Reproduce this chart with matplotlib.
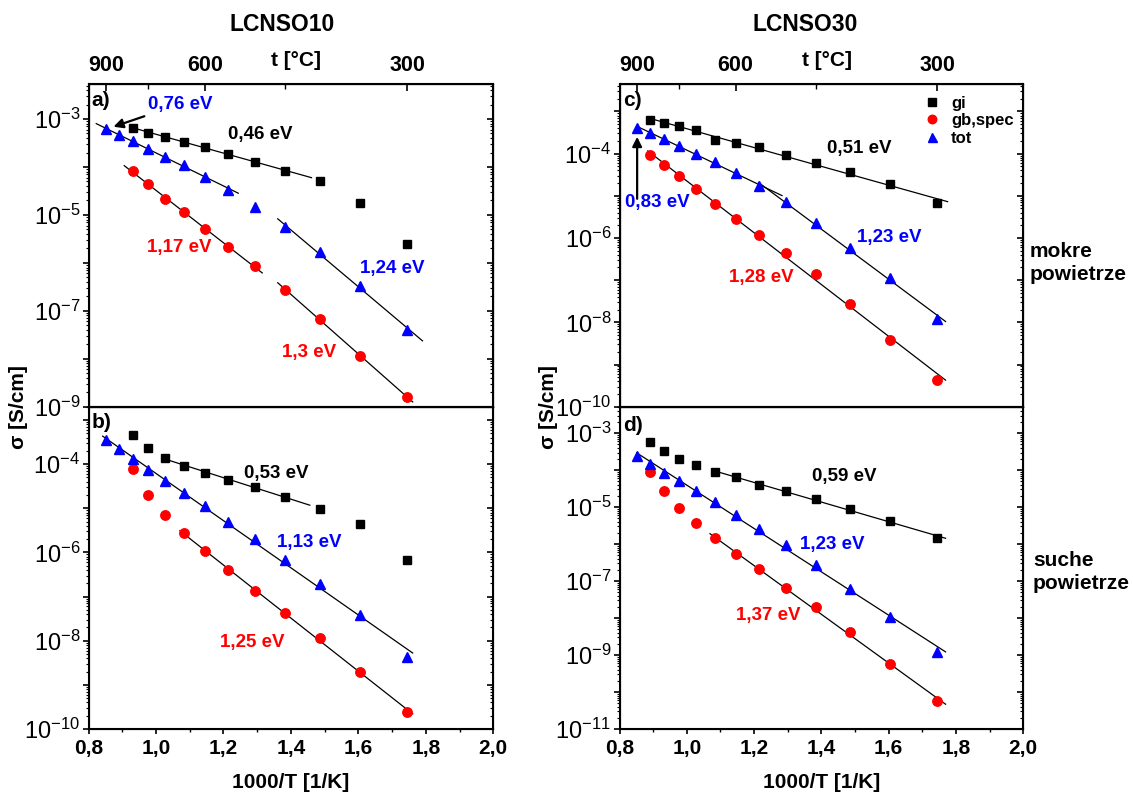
import numpy as np
import matplotlib.pyplot as plt
from matplotlib.ticker import LogLocator, NullFormatter, FuncFormatter, MultipleLocator

plt.rcParams['font.family'] = 'Liberation Sans'
plt.rcParams['mathtext.fontset'] = 'custom'
plt.rcParams['mathtext.rm'] = 'Liberation Sans'
plt.rcParams['mathtext.default'] = 'regular'

nan = np.nan

# temperatury pomiaru [C] -> 1000/T
t_C = [900, 850, 800, 750, 700, 650, 600, 550, 500, 450, 400, 350, 300]
x = 1000.0 / (np.array(t_C) + 273.15)

# ----- DANE: przewodnictwo [S/cm] -----
# a) LCNSO10, mokre powietrze
gi_a = [nan, nan, 6.4e-4, 5.2e-4, 4.2e-4, 3.37e-4, 2.57e-4, 1.9e-4, 1.29e-4, 8.4e-5, 5.2e-5, 1.75e-5, 2.5e-6]
gb_a = [nan, nan, 8.1e-5, 4.35e-5, 2.19e-5, 1.14e-5, 5.0e-6, 2.19e-6, 8.4e-7, 2.74e-7, 6.8e-8, 1.15e-8, 1.59e-9]
tot_a = [6.1e-4, 4.6e-4, 3.4e-4, 2.37e-4, 1.64e-4, 1.1e-4, 6.3e-5, 3.3e-5, 1.49e-5, 5.5e-6, 1.67e-6, 3.3e-7, 4.0e-8]
# b) LCNSO10, suche powietrze
gi_b = [nan, nan, 4.47e-4, 2.3e-4, 1.39e-4, 9.2e-5, 6.4e-5, 4.4e-5, 2.96e-5, 1.82e-5, 9.6e-6, 4.3e-6, 6.8e-7]
gb_b = [nan, nan, 7.7e-5, 1.95e-5, 6.9e-6, 2.7e-6, 1.05e-6, 3.96e-7, 1.37e-7, 4.35e-8, 1.14e-8, 1.97e-9, 2.49e-10]
tot_b = [3.56e-4, 2.19e-4, 1.3e-4, 7.3e-5, 4.2e-5, 2.2e-5, 1.1e-5, 4.9e-6, 2.0e-6, 6.8e-7, 1.9e-7, 3.8e-8, 4.2e-9]
# c) LCNSO30, mokre powietrze
gi_c = [nan, 6.4e-4, 5.2e-4, 4.47e-4, 3.6e-4, 2.15e-4, 1.8e-4, 1.44e-4, 9.3e-5, 6.0e-5, 3.6e-5, 1.87e-5, 6.7e-6]
gb_c = [nan, 9.5e-5, 5.4e-5, 2.95e-5, 1.42e-5, 6.5e-6, 2.85e-6, 1.19e-6, 4.5e-7, 1.38e-7, 2.73e-8, 3.9e-9, 4.4e-10]
tot_c = [4.15e-4, 3.0e-4, 2.27e-4, 1.55e-4, 1.0e-4, 6.3e-5, 3.4e-5, 1.67e-5, 7.0e-6, 2.3e-6, 5.8e-7, 1.1e-7, 1.2e-8]
# d) LCNSO30, suche powietrze
gi_d = [nan, 5.6e-4, 3.2e-4, 2.0e-4, 1.34e-4, 9.0e-5, 6.5e-5, 4.0e-5, 2.65e-5, 1.68e-5, 8.8e-6, 4.1e-6, 1.48e-6]
gb_d = [nan, 9.0e-5, 2.7e-5, 9.6e-6, 3.7e-6, 1.42e-6, 5.4e-7, 2.07e-7, 6.6e-8, 1.94e-8, 4.1e-9, 5.7e-10, 5.6e-11]
tot_d = [2.44e-4, 1.48e-4, 8.6e-5, 5.15e-5, 2.76e-5, 1.36e-5, 6.3e-6, 2.6e-6, 9.2e-7, 2.8e-7, 6.2e-8, 1.04e-8, 1.18e-9]

# ----- DOPASOWANIA: (seria, pierwszy punkt, ostatni punkt, x od, x do) -----
fits_a = [('gi', 2, 10, 0.938, 1.461), ('tot', 0, 7, 0.823, 1.244), ('tot', 9, 12, 1.361, 1.79),
          ('gb', 2, 8, 0.906, 1.315), ('gb', 9, 12, 1.361, 1.761)]
fits_b = [('gi', 4, 9, 1.025, 1.456), ('tot', 0, 12, 0.842, 1.761), ('gb', 5, 12, 1.071, 1.761)]
fits_c = [('gi', 1, 12, 0.887, 1.775), ('tot', 0, 7, 0.854, 1.283), ('tot', 7, 12, 1.213, 1.769),
          ('gb', 1, 12, 0.884, 1.769)]
fits_d = [('gi', 5, 12, 1.081, 1.769), ('tot', 0, 12, 0.851, 1.769), ('gb', 5, 12, 1.069, 1.769)]

# ----- ENERGIE AKTYWACJI: (tekst, kolor, x, y) -----
lab_a = [('0,46 eV', 'black', 1.308, 4.87e-4), ('1,17 eV', 'red', 1.068, 2.05e-6),
         ('1,24 eV', 'blue', 1.700, 7.5e-7), ('1,3 eV', 'red', 1.454, 1.33e-8)]
lab_b = [('0,53 eV', 'black', 1.356, 6.0e-5), ('1,13 eV', 'blue', 1.454, 1.64e-6),
         ('1,25 eV', 'red', 1.285, 8.9e-9)]
lab_c = [('0,51 eV', 'black', 1.512, 1.34e-4), ('0,83 eV', 'blue', 0.911, 6.97e-6),
         ('1,23 eV', 'blue', 1.601, 1.03e-6), ('1,28 eV', 'red', 1.221, 1.15e-7)]
lab_d = [('0,59 eV', 'black', 1.467, 6.6e-5), ('1,23 eV', 'blue', 1.431, 9.5e-7),
         ('1,37 eV', 'red', 1.241, 1.21e-8)]

styles = {'gi': ('s', 'black', 6.2, 'gi'),
          'gb': ('o', 'red', 6.8, 'gb,spec'),
          'tot': ('^', 'blue', 7.2, 'tot')}

W, H = 1133, 796
fig = plt.figure(figsize=(W / 100, H / 100), dpi=100)

col_x = [(88.5, 493.3), (619.5, 1023.3)]
row_y = [(84.3, 406.7), (406.7, 729.0)]


def make_ax(col, row):
    x0, x1 = col_x[col]
    yt, yb = row_y[row]
    return fig.add_axes([x0 / W, 1 - yb / H, (x1 - x0) / W, (yb - yt) / H])


def setup(ax, ylim, exps, labeled, top_panel):
    ax.set_yscale('log')
    ax.set_xlim(0.8, 2.0)
    ax.set_ylim(*ylim)
    for s in ax.spines.values():
        s.set_linewidth(1.5)
    ticks = [10.0 ** e for e in exps]
    labels = [r'$10^{%d}$' % e if e in labeled else '' for e in exps]
    ax.set_yticks(ticks, labels)
    ax.yaxis.set_minor_locator(LogLocator(base=10, subs=np.arange(2, 10), numticks=30))
    ax.yaxis.set_minor_formatter(NullFormatter())
    ax.tick_params(axis='y', which='major', direction='out', length=4.5, width=1.2,
                   right=False, labelsize=17, pad=1.5)
    ax.tick_params(axis='y', which='minor', direction='out', length=2.2, width=0.8, right=False)
    ax.set_ylim(*ylim)

    ax.xaxis.set_major_locator(MultipleLocator(0.2))
    ax.xaxis.set_minor_locator(MultipleLocator(0.1))
    ax.xaxis.set_major_formatter(FuncFormatter(lambda v, p: f'{v:.1f}'.replace('.', ',')))
    show = not top_panel
    ax.tick_params(axis='x', which='major', direction='out', length=3.5, width=1.2, top=False,
                   bottom=show, labelbottom=show, labelsize=15, pad=4)
    ax.tick_params(axis='x', which='minor', direction='out', length=2.2, width=1.0, top=False,
                   bottom=show)
    for lb in ax.get_xticklabels():
        lb.set_fontweight('bold')

    # prawa os: kreski do srodka
    axr = ax.twinx()
    axr.set_yscale('log')
    axr.set_ylim(*ylim)
    axr.set_yticks(ticks, [''] * len(ticks))
    axr.yaxis.set_minor_locator(LogLocator(base=10, subs=np.arange(2, 10), numticks=30))
    axr.yaxis.set_minor_formatter(NullFormatter())
    axr.tick_params(axis='y', which='major', direction='in', length=4.5, width=1.2)
    axr.tick_params(axis='y', which='minor', direction='in', length=2.2, width=0.8)
    axr.set_ylim(*ylim)

    if top_panel:
        # gorna os: temperatura w C
        axt = ax.twiny()
        axt.set_xlim(0.8, 2.0)
        t_major = [900, 600, 300]
        t_minor = [750, 450]
        axt.set_xticks([1000 / (t + 273.15) for t in t_major], [str(t) for t in t_major])
        axt.set_xticks([1000 / (t + 273.15) for t in t_minor], minor=True)
        axt.tick_params(axis='x', which='major', direction='in', length=5, width=1.2,
                        labelsize=15.5, pad=6)
        axt.tick_params(axis='x', which='minor', direction='in', length=3.5, width=1.0)
        for lb in axt.get_xticklabels():
            lb.set_fontweight('bold')
        ax.text(0.513, 1.075, 't [°C]', transform=ax.transAxes, ha='center', va='center',
                fontsize=15, fontweight='bold')


def draw(ax, series, fits, labs, tag, tag_y):
    for key in ['gi', 'gb', 'tot']:
        m, c, ms, name = styles[key]
        ax.plot(x, series[key], m, color=c, ms=ms, mec=c, linestyle='none', label=name, zorder=3)
    for key, i0, i1, xa, xb in fits:
        xs = x[i0:i1 + 1]
        ys = np.log10(np.array(series[key][i0:i1 + 1]))
        ok = ~np.isnan(ys)
        k, b = np.polyfit(xs[ok], ys[ok], 1)
        xl = np.array([xa, xb])
        ax.plot(xl, 10 ** (k * xl + b), color='black', lw=0.9, zorder=2)
    for txt, c, tx, ty in labs:
        ax.text(tx, ty, txt, color=c, fontsize=13.5, fontweight='bold', ha='center', va='center')
    ax.text(0.008, tag_y, tag, transform=ax.transAxes, fontsize=15, fontweight='bold',
            ha='left', va='center')


ax_a = make_ax(0, 0)
ax_b = make_ax(0, 1)
ax_c = make_ax(1, 0)
ax_d = make_ax(1, 1)

setup(ax_a, (1e-9, 5.3e-3), list(range(-9, -2)), [-3, -5, -7, -9], True)
setup(ax_b, (1e-10, 2.0e-3), list(range(-10, -2)), [-4, -6, -8, -10], False)
setup(ax_c, (1e-10, 4.4e-3), list(range(-10, -2)), [-4, -6, -8, -10], True)
setup(ax_d, (1e-11, 5.2e-3), list(range(-11, -2)), [-3, -5, -7, -9, -11], False)

draw(ax_a, {'gi': gi_a, 'gb': gb_a, 'tot': tot_a}, fits_a, lab_a, 'a)', 0.951)
draw(ax_b, {'gi': gi_b, 'gb': gb_b, 'tot': tot_b}, fits_b, lab_b, 'b)', 0.952)
draw(ax_c, {'gi': gi_c, 'gb': gb_c, 'tot': tot_c}, fits_c, lab_c, 'c)', 0.951)
draw(ax_d, {'gi': gi_d, 'gb': gb_d, 'tot': tot_d}, fits_d, lab_d, 'd)', 0.943)

# strzalki przy 0,76 eV i 0,83 eV
ax_a.annotate('0,76 eV', xy=(0.874, 6.9e-4), xytext=(0.976, 2.05e-3), color='blue',
              fontsize=13.5, fontweight='bold', ha='left', va='center',
              arrowprops=dict(arrowstyle='-|>', color='black', lw=1.6, mutation_scale=14,
                              shrinkA=2, shrinkB=0))
ax_c.annotate('', xy=(x[0], 2.5e-4), xytext=(x[0], 8.5e-6),
              arrowprops=dict(arrowstyle='-|>', color='black', lw=1.6, mutation_scale=14,
                              shrinkA=0, shrinkB=0))

ax_c.legend(loc='upper left', bbox_to_anchor=(0.755, 0.965), frameon=False,
            prop={'weight': 'bold', 'size': 12}, handlelength=0.9, handletextpad=0.7,
            labelspacing=0.15, borderpad=0, borderaxespad=0, markerscale=0.9)

# tytuly i podpisy osi
ax_a.text(0.478, 1.184, 'LCNSO10', transform=ax_a.transAxes, ha='center', va='center',
          fontsize=16.5, fontweight='bold')
ax_c.text(0.459, 1.184, 'LCNSO30', transform=ax_c.transAxes, ha='center', va='center',
          fontsize=16.5, fontweight='bold')
for ax in (ax_b, ax_d):
    ax.text(0.5, -0.1675, '1000/T [1/K]', transform=ax.transAxes, ha='center', va='center',
            fontsize=15, fontweight='bold')
for px in (19, 548):
    fig.text(px / W, 1 - 407 / H, 'σ [S/cm]', rotation=90, ha='center', va='center',
             fontsize=15, fontweight='bold')
fig.text(1030 / W, 1 - 263 / H, 'mokre\npowietrze', ha='left', va='center',
         fontsize=15, fontweight='bold', linespacing=1.25)
fig.text(1033 / W, 1 - 572 / H, 'suche\npowietrze', ha='left', va='center',
         fontsize=15, fontweight='bold', linespacing=1.25)

fig.savefig('out.png', dpi=100)
